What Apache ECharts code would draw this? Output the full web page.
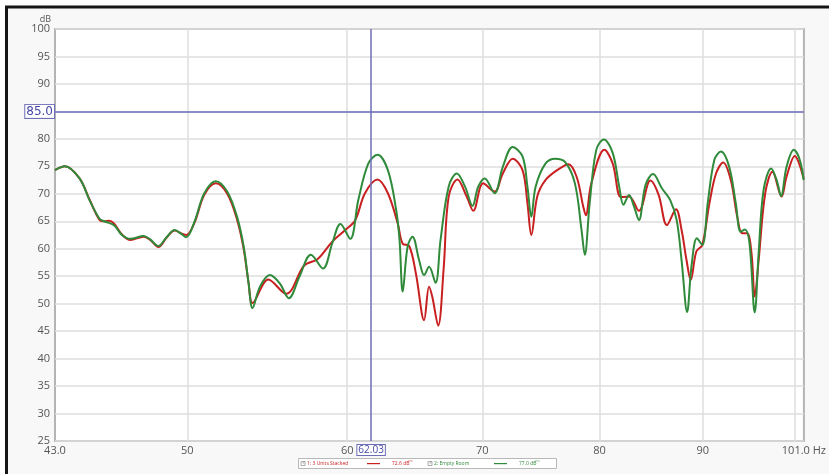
<!DOCTYPE html>
<html>
<head>
<meta charset="utf-8">
<script src="https://cdn.jsdelivr.net/npm/echarts@6/dist/echarts.min.js"></script>
<style>
html, body { margin: 0; padding: 0; background: #fff; }
#rta-chart { width: 829px; height: 474px; }
</style>
</head>
<body>
<div id="rta-chart"></div>
<script>
// x axis is logarithmic (REW style), labels + grid lines in Hz
const xTickFreqs = [43, 50, 60, 70, 80, 90, 101];
const xTickLabels = ['43.0', '50', '60', '70', '80', '90', '101.0 Hz'];
const xGridFreqs = [50, 60, 70, 80, 90, 100];

// 1: 3 Units Stacked (red)
const stackedFreq = [43.00, 43.49, 44.22, 44.72, 45.23, 45.48, 45.74, 45.99, 46.41, 46.86, 47.57, 47.93, 48.38, 48.83, 49.29, 49.66, 49.94, 50.41, 50.98, 51.65, 52.33, 52.92, 53.32, 53.62, 53.86, 54.84, 55.97, 57.14, 58.00, 58.99, 59.87, 60.55, 61.23, 62.11, 62.85, 63.56, 63.92, 64.40, 64.89, 65.50, 65.87, 66.11, 66.56, 66.98, 67.36, 68.04, 68.76, 69.28, 70.06, 70.98, 71.65, 72.46, 73.28, 73.69, 74.02, 74.52, 75.22, 76.36, 77.22, 77.94, 78.53, 78.76, 79.26, 80.45, 81.22, 81.98, 82.74, 83.68, 84.78, 85.58, 86.39, 87.29, 87.85, 88.35, 88.77, 89.34, 89.95, 90.69, 91.37, 92.12, 92.92, 93.61, 94.14, 94.67, 95.14, 95.49, 95.92, 96.64, 97.44, 98.46, 99.02, 99.95, 100.97];
const stackedDb = [74.3, 75.0, 72.8, 69.0, 65.3, 65.0, 65.1, 64.6, 62.6, 61.6, 62.2, 61.6, 60.3, 62.0, 63.3, 62.8, 62.5, 64.7, 69.8, 71.9, 70.0, 65.3, 60.0, 53.8, 50.1, 54.4, 51.8, 57.0, 58.1, 61.3, 63.4, 65.2, 70.1, 72.6, 70.1, 64.6, 60.9, 60.5, 55.5, 47.0, 53.1, 51.3, 46.0, 56.5, 69.5, 72.6, 69.5, 66.9, 71.9, 70.4, 73.7, 76.4, 74.3, 68.3, 62.5, 69.5, 72.5, 74.5, 75.4, 73.1, 67.7, 66.1, 71.9, 78.0, 75.5, 69.4, 69.5, 66.9, 72.4, 69.8, 64.3, 67.2, 63.4, 57.9, 54.3, 59.5, 60.7, 68.3, 73.7, 75.7, 72.5, 65.8, 62.8, 62.8, 59.2, 51.3, 57.9, 70.1, 74.0, 69.5, 73.1, 76.9, 72.8];

// 2: Empty Room (green)
const emptyFreq = [43.00, 43.49, 44.22, 44.72, 45.23, 45.48, 45.99, 46.41, 46.86, 47.57, 47.93, 48.38, 48.83, 49.29, 49.66, 49.94, 50.41, 50.98, 51.65, 52.33, 52.92, 53.32, 53.62, 53.86, 54.32, 54.94, 55.56, 56.14, 56.82, 57.57, 58.37, 58.99, 59.54, 60.21, 60.77, 61.46, 62.11, 62.85, 63.45, 63.69, 63.92, 64.28, 64.64, 65.13, 65.50, 65.87, 66.36, 66.74, 67.36, 67.99, 68.63, 69.22, 69.67, 70.19, 70.98, 71.65, 72.46, 73.28, 73.69, 74.02, 74.38, 75.22, 76.06, 76.92, 77.79, 78.38, 78.67, 79.11, 79.71, 80.40, 81.22, 81.82, 82.22, 82.74, 83.21, 83.68, 84.31, 85.04, 85.90, 86.71, 87.36, 87.85, 88.41, 88.84, 89.40, 89.95, 90.51, 91.20, 91.89, 92.75, 93.45, 93.97, 94.43, 94.92, 95.49, 95.92, 96.46, 97.30, 97.91, 98.40, 99.02, 99.84, 100.52, 100.97];
const emptyDb = [74.3, 75.0, 72.8, 68.9, 65.5, 65.0, 64.3, 62.5, 61.8, 62.3, 61.7, 60.5, 62.1, 63.4, 62.7, 62.1, 64.9, 70.1, 72.3, 70.4, 65.8, 60.4, 53.7, 49.2, 53.1, 55.2, 53.7, 51.0, 54.9, 58.9, 56.4, 61.0, 64.5, 61.8, 68.9, 75.5, 77.1, 74.3, 67.0, 61.6, 52.2, 60.4, 62.2, 57.9, 55.2, 56.7, 53.8, 61.6, 71.3, 73.7, 71.3, 67.8, 71.3, 72.8, 70.1, 74.9, 78.5, 76.8, 71.3, 65.8, 71.3, 75.5, 76.4, 75.8, 71.9, 63.4, 58.9, 68.3, 78.0, 79.9, 77.4, 71.3, 68.0, 69.8, 67.7, 65.2, 71.6, 73.6, 71.0, 68.9, 65.2, 57.9, 48.5, 56.7, 61.9, 60.7, 68.3, 76.2, 77.7, 74.9, 68.3, 63.1, 63.5, 61.0, 48.4, 59.2, 70.7, 74.6, 72.5, 69.6, 74.9, 78.0, 76.2, 72.5];

const seriesNames = ['1: 3 Units Stacked', '2: Empty Room'];
const seriesColors = ['#c82020', '#2f8a3a'];
const legendValues = ['72.6 dB', '77.0 dB'];
const cursorHz = 62.03;
const cursorDb = 85.0;

const lg = Math.log10;
function toPoints(freqs, dbs) {
  return freqs.map((f, i) => [lg(f), dbs[i]]);
}

// small REW style legend box under the plot: checkbox, name, line sample, value
function legendItem(x, i) {
  const c = seriesColors[i];
  return [
    { type: 'rect', shape: { x: x, y: 461.5, width: 4, height: 4 }, style: { fill: '#fff', stroke: '#999', lineWidth: 0.8 } },
    { type: 'text', x: x + 1, y: 461, style: { text: '✓', fontSize: 4, fill: '#666' } },
    { type: 'text', x: x + 6, y: 461, style: { text: seriesNames[i], fontSize: 5, fill: c, fontFamily: 'Open Sans' } },
    { type: 'rect', shape: { x: x + 66, y: 463, width: 13, height: 1.2 }, style: { fill: c } },
    { type: 'text', x: x + 91, y: 461, style: { text: legendValues[i], fontSize: 5, fill: c, fontFamily: 'Open Sans' } },
    { type: 'text', x: x + 107, y: 460, style: { text: 'rms', fontSize: 3, fill: c, opacity: 0.6 } }
  ];
}

const cursorColor = '#6e6eb6';
const chart = echarts.init(document.getElementById('rta-chart'));

const option = {
  animation: false,
  backgroundColor: '#ffffff',
  textStyle: { fontFamily: 'Open Sans' },
  graphic: [
    {
      type: 'rect',
      z: -1,
      silent: true,
      shape: { x: 6.5, y: 7, width: 900, height: 600 },
      style: { fill: '#f8f8f8', stroke: '#151515', lineWidth: 3 }
    },
    {
      type: 'group',
      silent: true,
      children: [
        { type: 'rect', shape: { x: 298.5, y: 458.5, width: 258, height: 10 }, style: { fill: '#fff', stroke: '#b8b8b8', lineWidth: 1 } }
      ].concat(legendItem(301, 0), legendItem(428, 1))
    }
  ],
  grid: {
    left: 55,
    right: 13,
    top: 29,
    bottom: 33,
    show: true,
    backgroundColor: '#ffffff',
    borderColor: '#b4b4b4',
    borderWidth: 2
  },
  xAxis: {
    type: 'value',
    min: lg(43),
    max: lg(101),
    axisLine: { show: false },
    axisTick: { show: false, customValues: xGridFreqs.map(lg) },
    splitLine: { show: true, lineStyle: { color: '#dedede', width: 1.5 } },
    axisLabel: {
      customValues: xTickFreqs.map(lg),
      formatter: function (v) {
        const f = Math.pow(10, v);
        const i = xTickFreqs.findIndex(t => Math.abs(t - f) < 0.01);
        return i >= 0 ? xTickLabels[i] : '';
      },
      color: '#555',
      fontSize: 11,
      margin: 4
    }
  },
  yAxis: {
    type: 'value',
    min: 25,
    max: 100,
    interval: 5,
    name: 'dB',
    nameLocation: 'end',
    nameGap: 0,
    nameTextStyle: { color: '#555', fontSize: 9, align: 'right', padding: [0, 4, 0, 0] },
    axisLine: { show: false },
    axisTick: { show: false },
    splitLine: { show: true, lineStyle: { color: '#dedede', width: 1.5 } },
    axisLabel: { color: '#555', fontSize: 11, margin: 5 }
  },
  series: [
    {
      name: seriesNames[0],
      type: 'line',
      data: toPoints(stackedFreq, stackedDb),
      showSymbol: false,
      smooth: 0.35,
      lineStyle: { color: seriesColors[0], width: 2 },
      itemStyle: { color: seriesColors[0] }
    },
    {
      name: seriesNames[1],
      type: 'line',
      data: toPoints(emptyFreq, emptyDb),
      showSymbol: false,
      smooth: 0.35,
      lineStyle: { color: seriesColors[1], width: 2 },
      itemStyle: { color: seriesColors[1] },
      markLine: {
        silent: true,
        symbol: 'none',
        lineStyle: { color: cursorColor, width: 1.5, type: 'solid' },
        data: [
          {
            yAxis: cursorDb,
            label: {
              position: 'start',
              distance: 1,
              formatter: cursorDb.toFixed(1),
              fontFamily: 'DejaVu Sans',
              fontSize: 12,
              color: '#4848a8',
              backgroundColor: '#ffffff',
              borderColor: cursorColor,
              borderWidth: 1,
              padding: [1, 1, 0, 1]
            }
          },
          {
            xAxis: lg(cursorHz),
            label: {
              position: 'start',
              distance: 4,
              formatter: cursorHz.toFixed(2),
              fontFamily: 'Open Sans',
              fontSize: 10,
              color: '#4848a8',
              backgroundColor: '#ffffff',
              borderColor: cursorColor,
              borderWidth: 1,
              padding: [0, 1, 0, 1]
            }
          }
        ]
      }
    }
  ]
};

chart.setOption(option);
</script>
</body>
</html>
